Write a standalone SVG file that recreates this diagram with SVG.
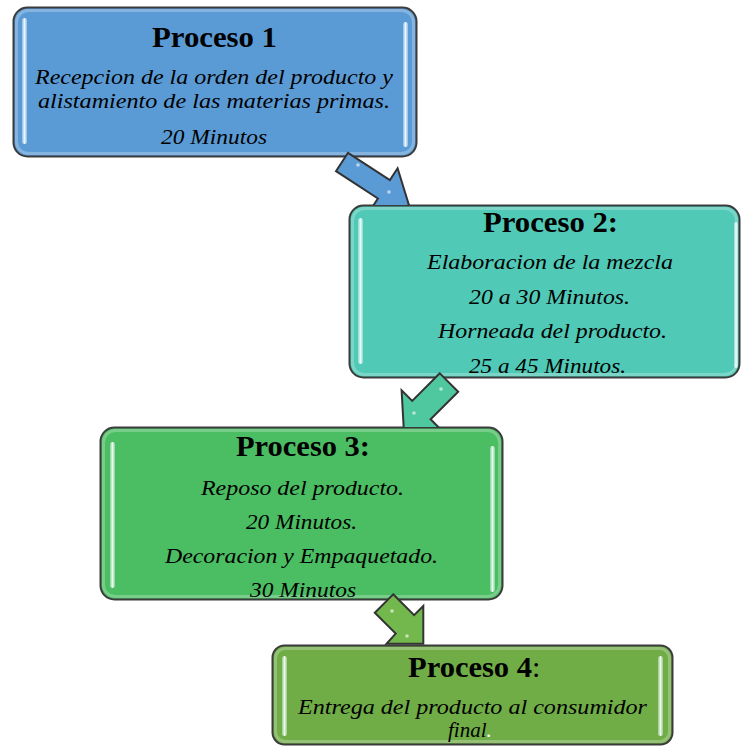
<svg xmlns="http://www.w3.org/2000/svg" width="741" height="746" viewBox="0 0 741 746">
  <defs>
    <style>
      .box { stroke: #3b3b3b; stroke-width: 2; }
      .rim { fill: none; stroke: #ffffff; stroke-opacity: 0.25; stroke-width: 3; }
      .shine { fill: url(#shine); }
      .arrow { stroke: #333333; stroke-width: 2; stroke-linejoin: miter; }
      .spec { fill: #ffffff; opacity: 0.6; }
      .title { font-family: "Liberation Serif", "Times New Roman", serif; font-weight: bold; font-size: 30px; fill: #000; }
      .body { font-family: "Liberation Serif", "Times New Roman", serif; font-style: italic; font-size: 21px; fill: #000; }
    </style>
    <linearGradient id="shine" x1="0" y1="0" x2="1" y2="0">
      <stop offset="0" stop-color="#e8ffff" stop-opacity="0.35"/>
      <stop offset="0.5" stop-color="#ffffff" stop-opacity="0.9"/>
      <stop offset="1" stop-color="#e8ffff" stop-opacity="0.35"/>
    </linearGradient>
    <!-- each arrow is clipped at the top edge of the box it points into -->
    <clipPath id="clip-a1"><rect x="0" y="0" width="741" height="205"/></clipPath>
    <clipPath id="clip-a2"><rect x="0" y="0" width="741" height="427"/></clipPath>
    <clipPath id="clip-a3"><rect x="0" y="0" width="741" height="645"/></clipPath>
  </defs>

  <rect width="741" height="746" fill="#ffffff"/>

  <!-- Stage 1 -->
  <g id="proceso-1">
    <rect class="box" x="13.5" y="7.5" width="403" height="149" rx="14" fill="#5b9bd5"/>
    <rect class="rim" x="16.5" y="10.5" width="397" height="143" rx="12"/>
    <rect class="shine" x="22" y="18" width="5" height="126" rx="2.5"/>
    <rect class="shine" x="403" y="22" width="5" height="125" rx="2.5"/>
    <text class="title" x="152" y="47" textLength="125" lengthAdjust="spacingAndGlyphs">Proceso 1</text>
    <text class="body" x="35" y="84" textLength="358" lengthAdjust="spacingAndGlyphs">Recepcion  de la orden del producto y</text>
    <text class="body" x="38" y="108" textLength="352" lengthAdjust="spacingAndGlyphs">alistamiento de las materias primas.</text>
    <text class="body" x="161" y="144" textLength="106" lengthAdjust="spacingAndGlyphs">20 Minutos</text>
  </g>

  <!-- Stage 2 -->
  <g id="proceso-2">
    <rect class="box" x="349.5" y="205.5" width="390" height="172" rx="14" fill="#50c9b6"/>
    <rect class="rim" x="352.5" y="208.5" width="384" height="166" rx="12"/>
    <rect class="shine" x="358" y="218" width="5" height="146" rx="2.5"/>
    <rect class="shine" x="734" y="222" width="4" height="146" rx="2"/>
    <text class="title" x="483" y="232" textLength="135" lengthAdjust="spacingAndGlyphs">Proceso 2:</text>
    <text class="body" x="427" y="269" textLength="246" lengthAdjust="spacingAndGlyphs">Elaboracion de la mezcla</text>
    <text class="body" x="469" y="304" textLength="161" lengthAdjust="spacingAndGlyphs">20 a 30 Minutos.</text>
    <text class="body" x="438" y="338" textLength="229" lengthAdjust="spacingAndGlyphs">Horneada del producto.</text>
    <text class="body" x="469" y="373" textLength="157" lengthAdjust="spacingAndGlyphs">25 a 45 Minutos.</text>
  </g>

  <!-- Stage 3 -->
  <g id="proceso-3">
    <rect class="box" x="100.5" y="427.5" width="402" height="172" rx="14" fill="#4bbd63"/>
    <rect class="rim" x="103.5" y="430.5" width="396" height="166" rx="12"/>
    <rect class="shine" x="110" y="442" width="5" height="146" rx="2.5"/>
    <rect class="shine" x="490" y="446" width="5" height="146" rx="2.5"/>
    <text class="title" x="236" y="456" textLength="134" lengthAdjust="spacingAndGlyphs">Proceso 3:</text>
    <text class="body" x="201" y="495" textLength="203" lengthAdjust="spacingAndGlyphs">Reposo del producto.</text>
    <text class="body" x="246" y="529" textLength="111" lengthAdjust="spacingAndGlyphs">20 Minutos.</text>
    <text class="body" x="165" y="563" textLength="273" lengthAdjust="spacingAndGlyphs">Decoracion y Empaquetado.</text>
    <text class="body" x="250" y="597" textLength="106" lengthAdjust="spacingAndGlyphs">30 Minutos</text>
  </g>

  <!-- Stage 4 -->
  <g id="proceso-4">
    <rect class="box" x="272.5" y="645.5" width="400" height="99" rx="12" fill="#70ad47"/>
    <rect class="rim" x="275.5" y="648.5" width="394" height="93" rx="10"/>
    <rect class="shine" x="282" y="656" width="5" height="80" rx="2.5"/>
    <rect class="shine" x="658" y="656" width="5" height="80" rx="2.5"/>
    <text class="title" x="408" y="677"><tspan textLength="124" lengthAdjust="spacingAndGlyphs">Proceso 4</tspan><tspan font-weight="normal">:</tspan></text>
    <text class="body" x="298" y="714" textLength="349" lengthAdjust="spacingAndGlyphs">Entrega del producto al consumidor</text>
    <text class="body" x="448" y="737">final<tspan fill="#ffffff">.</tspan></text>
  </g>

  <!-- connectors: block arrows between the stages, drawn over the source box -->
  <g id="connectors">
    <g id="arrow-1-2" clip-path="url(#clip-a1)">
      <polygon class="arrow" fill="#5b9bd5" points="348.0,152.8 389.9,180.0 397.6,168.3 409.1,205.6 370.3,210.2 377.9,198.5 336.0,171.2"/>
      <circle class="spec" cx="358" cy="165" r="1.8"/>
      <circle class="spec" cx="389" cy="192" r="1.8"/>
    </g>
    <g id="arrow-2-3" clip-path="url(#clip-a2)">
      <polygon class="arrow" fill="#4fc79f" points="439.8,373.3 412.2,400.9 401.6,390.3 403.7,427.8 441.2,429.9 430.6,419.3 458.2,391.7"/>
      <circle class="spec" cx="441" cy="389" r="1.8"/>
      <circle class="spec" cx="414" cy="413" r="1.8"/>
    </g>
    <g id="arrow-3-4" clip-path="url(#clip-a3)">
      <polygon class="arrow" fill="#72b84c" points="393.2,594.3 414.1,615.2 423.3,606.0 423.3,643.8 386.5,643.8 395.7,633.6 374.8,612.7"/>
      <circle class="spec" cx="392" cy="611" r="1.8"/>
      <circle class="spec" cx="407" cy="636" r="1.8"/>
    </g>
  </g>
</svg>
